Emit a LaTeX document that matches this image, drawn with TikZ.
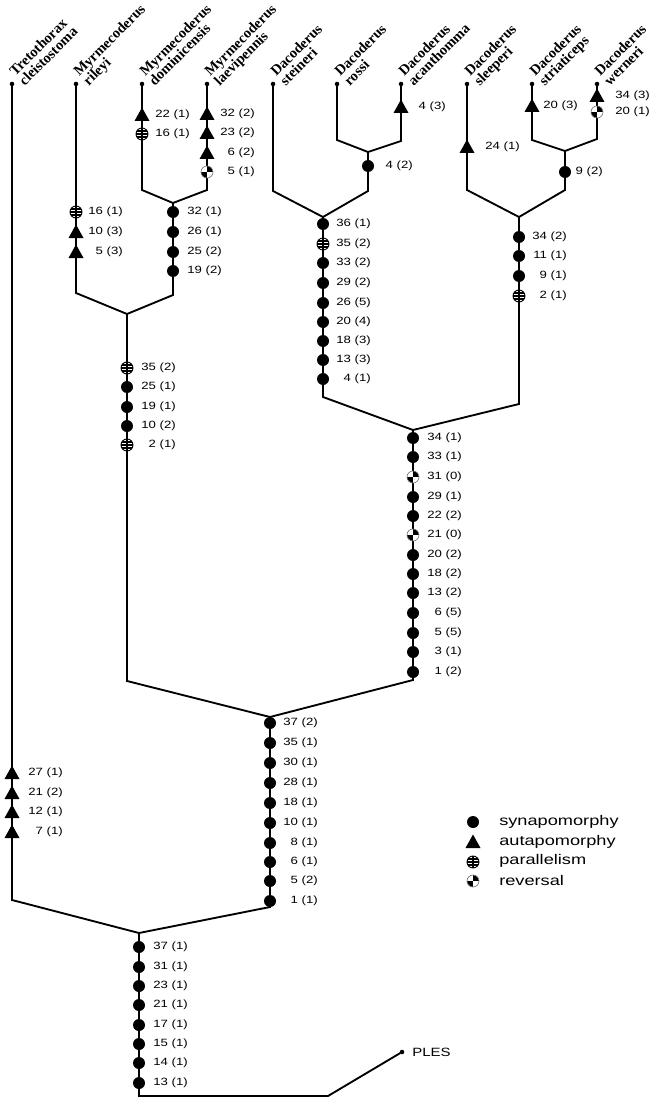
\documentclass[tikz,border=0pt]{standalone}
\usepackage{fontspec}
\setmainfont{Liberation Serif}
\newfontfamily\numfont[FakeStretch=1.25]{Liberation Sans}
\newfontfamily\legfont[FakeStretch=1.3]{Liberation Sans}
\tikzset{
  branch/.style={line width=1.4pt},
  num/.style={font=\numfont\fontsize{7.9}{9}\selectfont, inner sep=0pt, anchor=east},
  leaf/.style={font=\bfseries\fontsize{10.9}{10}\selectfont, inner sep=0pt, anchor=south west, rotate=45, align=left},
  legtext/.style={font=\legfont\fontsize{10.5}{12}\selectfont, inner sep=0pt, anchor=west},
  leafdot/.style={circle, fill=black, inner sep=0pt, minimum size=3.4pt},
}
\newcommand\Msyn[1]{\fill #1 circle[radius=6];}
\newcommand\Maut[1]{\fill[shift={#1}] (0,-7.5) -- (7.5,6) -- (-7.5,6) -- cycle;}
\newcommand\Mpar[1]{\begin{scope}[shift={#1}]
  \fill[white] (0,0) circle[radius=6];
  \begin{scope}\clip (0,0) circle[radius=6];
    \fill (-6,-3.6) rectangle (6,-2.2);
    \fill (-6,-0.7) rectangle (6,0.7);
    \fill (-6,2.2) rectangle (6,3.6);
  \end{scope}
  \draw[line width=0.7pt] (0,0) circle[radius=6];
  \draw[line width=0.9pt] (0,-6) -- (0,6);
\end{scope}}
\newcommand\Mrev[1]{\begin{scope}[shift={#1}]
  \fill[white] (0,0) circle[radius=6];
  \begin{scope}\clip (0,0) circle[radius=6];
    \fill (0,0) rectangle (6,-6);
    \fill (0,0) rectangle (-6,6);
  \end{scope}
  \draw[line width=0.5pt, black!55] (0,0) circle[radius=6];
\end{scope}}
\newcommand\stemmarks[3]{%
  \foreach \yy/\mk/\lab [count=\i] in {#3}{
    \csname M\mk\endcsname{(#1,\yy)}
    \node[num] (m#1-\i) at (#1+#2,\yy) {\lab};
  }}
\newcommand\leaflabel[4]{%
  \node[leaf] (#1lab) at (#2+15,89) {#3\\#4\vphantom{py}};}
\begin{document}
\begin{tikzpicture}[x=0.75pt,y=-0.75pt]
\useasboundingbox (0,0) rectangle (653,1098);
% leaf tips
\coordinate (Tre) at (12,84);
\coordinate (Ril) at (76,84);
\coordinate (Dom) at (142,84);
\coordinate (Lae) at (207,84);
\coordinate (Ste) at (273,84);
\coordinate (Ros) at (337,84);
\coordinate (Aca) at (401,84);
\coordinate (Sle) at (467,84);
\coordinate (Str) at (532,84);
\coordinate (Wer) at (597,84);
\coordinate (PLES) at (402,1052);
% bends and junctions
\coordinate (TreB) at (12,900);
\coordinate (Root) at (139,933);
\coordinate (RootB) at (139,1096);
\coordinate (PlesB) at (328,1096);
\coordinate (InB) at (270,907);
\coordinate (In) at (270,717);
\coordinate (MyB) at (127,681);
\coordinate (My) at (127,314);
\coordinate (DaB) at (413,680);
\coordinate (Da) at (413,430);
\coordinate (RilB) at (76,293);
\coordinate (DLB) at (173,295);
\coordinate (DL) at (173,203);
\coordinate (DomB) at (142,190);
\coordinate (LaeB) at (207,190);
\coordinate (SteGB) at (323,397);
\coordinate (SteG) at (323,217);
\coordinate (SteB) at (273,191);
\coordinate (RAB) at (368,191);
\coordinate (RA) at (368,152);
\coordinate (RosB) at (337,140);
\coordinate (AcaB) at (401,141);
\coordinate (SleGB) at (519,404);
\coordinate (SleG) at (519,217);
\coordinate (SleB) at (467,190);
\coordinate (SWB) at (565,190);
\coordinate (SW) at (565,151);
\coordinate (StrB) at (532,140);
\coordinate (WerB) at (597,139);
% branches
\draw[branch] (Tre) -- (TreB) -- (Root) -- (InB) -- (In);
\draw[branch] (Root) -- (RootB) -- (PlesB) -- (PLES);
\draw[branch] (In) -- (MyB) -- (My) -- (RilB) -- (Ril);
\draw[branch] (My) -- (DLB) -- (DL) -- (DomB) -- (Dom);
\draw[branch] (DL) -- (LaeB) -- (Lae);
\draw[branch] (In) -- (DaB) -- (Da) -- (SteGB) -- (SteG) -- (SteB) -- (Ste);
\draw[branch] (SteG) -- (RAB) -- (RA) -- (RosB) -- (Ros);
\draw[branch] (RA) -- (AcaB) -- (Aca);
\draw[branch] (Da) -- (SleGB) -- (SleG) -- (SleB) -- (Sle);
\draw[branch] (SleG) -- (SWB) -- (SW) -- (StrB) -- (Str);
\draw[branch] (SW) -- (WerB) -- (Wer);
% tip dots
\foreach \t in {Tre,Ril,Dom,Lae,Ste,Ros,Aca,Sle,Str,Wer,PLES}{\node[leafdot] (d\t) at (\t) {};}
% tip labels
\leaflabel{Tre}{12}{Tretothorax}{cleistostoma}
\leaflabel{Ril}{76}{Myrmecoderus}{rileyi}
\leaflabel{Dom}{142}{Myrmecoderus}{dominicensis}
\leaflabel{Lae}{207}{Myrmecoderus}{laevipennis}
\leaflabel{Ste}{273}{Dacoderus}{steineri}
\leaflabel{Ros}{337}{Dacoderus}{rossi}
\leaflabel{Aca}{401}{Dacoderus}{acanthomma}
\leaflabel{Sle}{467}{Dacoderus}{sleeperi}
\leaflabel{Str}{532}{Dacoderus}{striaticeps}
\leaflabel{Wer}{597}{Dacoderus}{werneri}
\node[font=\numfont\fontsize{9}{10}\selectfont, inner sep=0pt, anchor=west] (plesl) at (412,1052) {PLES};
% character states
\stemmarks{12}{51}{773/aut/{27 (1)},793/aut/{21 (2)},812/aut/{12 (1)},832/aut/{7 (1)}}
\stemmarks{76}{47}{212/par/{16 (1)},232/aut/{10 (3)},252/aut/{5 (3)}}
\stemmarks{142}{48}{115/aut/{22 (1)},134/par/{16 (1)}}
\stemmarks{207}{48}{114/aut/{32 (2)},133/aut/{23 (2)},153/aut/{6 (2)},172/rev/{5 (1)}}
\stemmarks{173}{49}{212/syn/{32 (1)},232/syn/{26 (1)},252/syn/{25 (2)},271/syn/{19 (2)}}
\stemmarks{127}{49}{368/par/{35 (2)},387/syn/{25 (1)},407/syn/{19 (1)},426/syn/{10 (2)},445/par/{2 (1)}}
\stemmarks{270}{48}{723/syn/{37 (2)},743/syn/{35 (1)},763/syn/{30 (1)},783/syn/{28 (1)},803/syn/{18 (1)},823/syn/{10 (1)},843/syn/{8 (1)},862/syn/{6 (1)},881/syn/{5 (2)},901/syn/{1 (1)}}
\stemmarks{139}{49}{947/syn/{37 (1)},967/syn/{31 (1)},986/syn/{23 (1)},1005/syn/{21 (1)},1025/syn/{17 (1)},1044/syn/{15 (1)},1063/syn/{14 (1)},1083/syn/{13 (1)}}
\stemmarks{413}{49}{438/syn/{34 (1)},457/syn/{33 (1)},477/rev/{31 (0)},497/syn/{29 (1)},516/syn/{22 (2)},535/rev/{21 (0)},555/syn/{20 (2)},574/syn/{18 (2)},593/syn/{13 (2)},613/syn/{6 (5)},633/syn/{5 (5)},652/syn/{3 (1)},672/syn/{1 (2)}}
\stemmarks{323}{48}{224/syn/{36 (1)},244/par/{35 (2)},263/syn/{33 (2)},283/syn/{29 (2)},303/syn/{26 (5)},322/syn/{20 (4)},341/syn/{18 (3)},360/syn/{13 (3)},379/syn/{4 (1)}}
\stemmarks{368}{45}{166/syn/{4 (2)}}
\stemmarks{401}{45}{107/aut/{4 (3)}}
\stemmarks{467}{53}{147/aut/{24 (1)}}
\stemmarks{519}{48}{237/syn/{34 (2)},256/syn/{11 (1)},276/syn/{9 (1)},296/par/{2 (1)}}
\stemmarks{565}{38}{172/syn/{9 (2)}}
\stemmarks{532}{46}{106/aut/{20 (3)}}
\stemmarks{597}{53}{96/aut/{34 (3)},112/rev/{20 (1)}}
% legend
\Msyn{(473,822)}
\node[legtext] (lg1) at (499,822) {synapomorphy};
\Maut{(473,842)}
\node[legtext] (lg2) at (499,842) {autapomorphy};
\Mpar{(473,862)}
\node[legtext] (lg3) at (499,861) {parallelism};
\Mrev{(473,881)}
\node[legtext] (lg4) at (499,880) {reversal};
\end{tikzpicture}
\end{document}
